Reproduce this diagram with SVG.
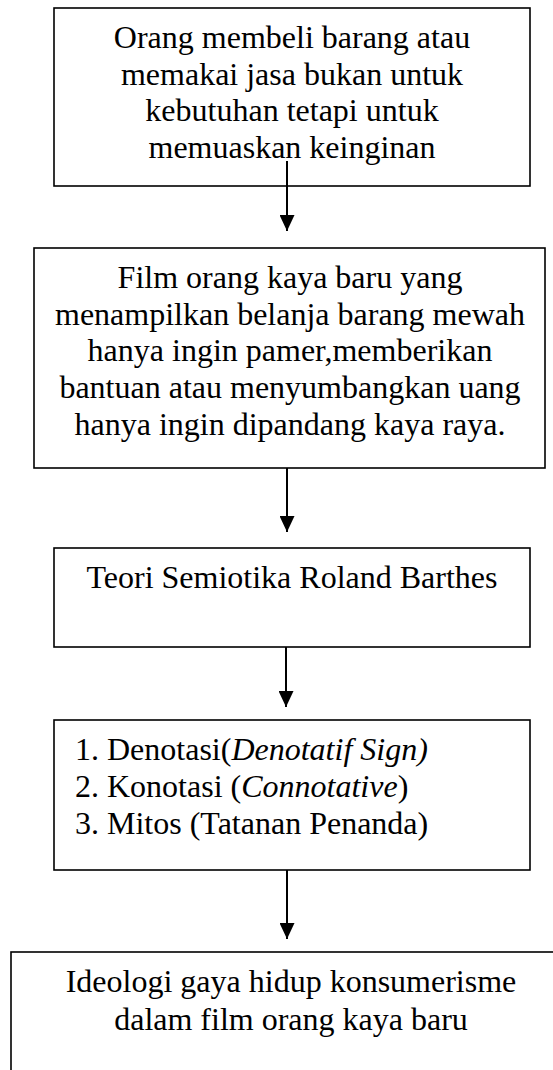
<svg xmlns="http://www.w3.org/2000/svg" width="553" height="1070" viewBox="0 0 553 1070">
<style>
.box{fill:#fff;stroke:#000;stroke-width:1.6}
.t{font-family:"Liberation Serif","Times New Roman",serif;font-size:32px;fill:#000}
.c{text-anchor:middle}
.i{font-style:italic}
.conn{stroke:#000;stroke-width:2;fill:none}
</style>
<defs>
<marker id="ah" markerUnits="userSpaceOnUse" viewBox="0 0 16 15" refX="16" refY="7.5" markerWidth="16" markerHeight="15" orient="auto">
<path d="M0,0 L16,7.5 L0,15 z" fill="#000"/>
</marker>
</defs>
<rect x="0" y="0" width="553" height="1070" fill="#fff"/>
<g id="node1">
<rect class="box" x="54" y="8" width="476" height="178"/>
<text class="t c" x="292" y="48">Orang membeli barang atau</text>
<text class="t c" x="292" y="85">memakai jasa bukan untuk</text>
<text class="t c" x="292" y="121">kebutuhan tetapi untuk</text>
<text class="t c" x="292" y="158">memuaskan keinginan</text>
</g>
<g id="node2">
<rect class="box" x="34" y="248" width="511" height="220"/>
<text class="t c" x="290" y="288">Film orang kaya baru yang</text>
<text class="t c" x="290" y="325">menampilkan belanja barang mewah</text>
<text class="t c" x="290" y="361">hanya ingin pamer,memberikan</text>
<text class="t c" x="290" y="398">bantuan atau menyumbangkan uang</text>
<text class="t c" x="290" y="435">hanya ingin dipandang kaya raya.</text>
</g>
<g id="node3">
<rect class="box" x="54" y="548" width="476" height="99"/>
<text class="t c" x="292" y="588">Teori Semiotika Roland Barthes</text>
</g>
<g id="node4">
<rect class="box" x="54" y="720" width="476" height="150"/>
<text class="t" x="75" y="760">1. Denotasi(<tspan class="i">Denotatif Sign)</tspan></text>
<text class="t" x="75" y="797">2. Konotasi (<tspan class="i">Connotative</tspan>)</text>
<text class="t" x="75" y="834">3. Mitos (Tatanan Penanda)</text>
</g>
<g id="node5">
<rect class="box" x="11" y="952" width="600" height="200"/>
<text class="t c" x="291" y="992">Ideologi gaya hidup konsumerisme</text>
<text class="t c" x="291" y="1030">dalam film orang kaya baru</text>
</g>
<g id="connectors">
<line class="conn" x1="287" y1="161" x2="287" y2="231" marker-end="url(#ah)"/>
<line class="conn" x1="287" y1="468" x2="287" y2="532" marker-end="url(#ah)"/>
<line class="conn" x1="286" y1="647" x2="286" y2="707" marker-end="url(#ah)"/>
<line class="conn" x1="287" y1="870" x2="287" y2="939" marker-end="url(#ah)"/>
</g>
</svg>
